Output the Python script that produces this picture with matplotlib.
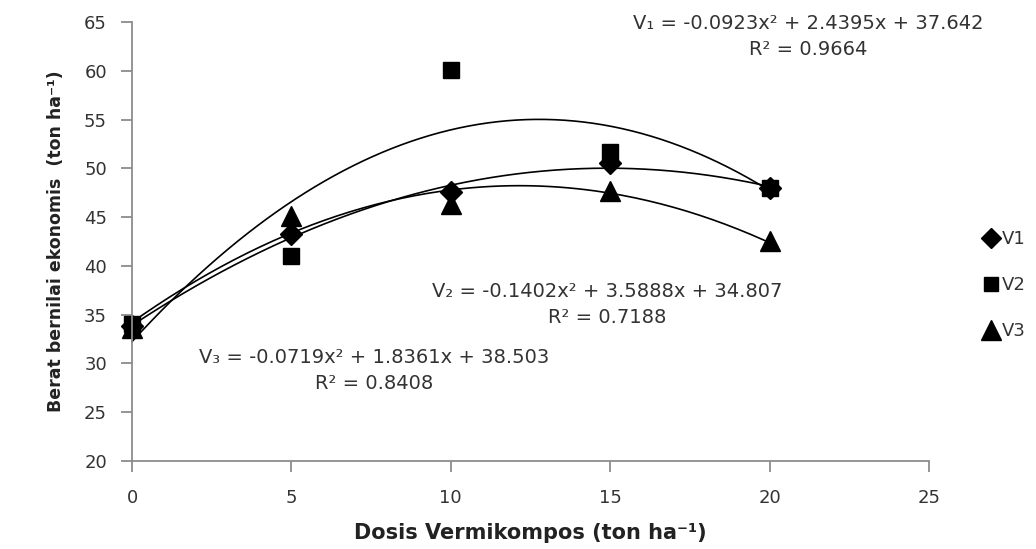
import numpy as np
import matplotlib.pyplot as plt

# data
dosis = [0, 5, 10, 15, 20]
v1 = [33.8, 43.3, 47.6, 50.5, 48.0]
v2 = [34.0, 41.0, 60.1, 51.7, 48.0]
v3 = [33.6, 45.1, 46.3, 47.7, 42.5]
series_names = ['V1', 'V2', 'V3']
markers = ['D', 's', '^']
msizes = [11, 11, 15]

eq_texts = [
    'V\u2081 = -0.0923x\u00b2 + 2.4395x + 37.642\nR\u00b2 = 0.9664',
    'V\u2082 = -0.1402x\u00b2 + 3.5888x + 34.807\nR\u00b2 = 0.7188',
    'V\u2083 = -0.0719x\u00b2 + 1.8361x + 38.503\nR\u00b2 = 0.8408',
]
eq_pos = [(21.2, 65.8), (14.9, 38.3), (7.6, 31.6)]

plt.rcParams['font.family'] = ['DejaVu Sans']
txt_col = '#333333'

fig = plt.figure(figsize=(10.36, 5.49), dpi=100)
ax = fig.add_axes([132/1036, 1 - 461/549, 797/1036, 439/549])

xs = np.linspace(0, 20, 200)
for ys, name, m, s in zip([v1, v2, v3], series_names, markers, msizes):
    ax.plot(dosis, ys, linestyle='none', marker=m, markersize=s, color='black', label=name)
    coef = np.polyfit(dosis, ys, 2)
    ax.plot(xs, np.polyval(coef, xs), color='black', linewidth=1.2)

for t, (x, y) in zip(eq_texts, eq_pos):
    ax.text(x, y, t, ha='center', va='top', fontsize=14, color=txt_col,
            linespacing=1.45, multialignment='center')

ax.set_xlim(0, 25)
ax.set_ylim(20, 65)
ax.set_xticks(range(0, 26, 5))
ax.set_yticks(range(20, 66, 5))
ax.spines['top'].set_visible(False)
ax.spines['right'].set_visible(False)
for sp in ['left', 'bottom']:
    ax.spines[sp].set_color('#8c8c8c')
    ax.spines[sp].set_linewidth(1.3)
ax.tick_params(direction='out', length=8, width=1.3, color='#8c8c8c', labelsize=13,
               labelcolor=txt_col)
ax.tick_params(axis='x', pad=12)
ax.tick_params(axis='y', pad=10)

ax.set_xlabel('Dosis Vermikompos (ton ha\u207b\u00b9)', fontsize=15, fontweight='bold',
              labelpad=12, color='#222222')
ax.set_ylabel('Berat bernilai ekonomis  (ton ha\u207b\u00b9)', fontsize=12.5, fontweight='bold',
              labelpad=14, color='#222222')

leg = ax.legend(loc='center left', bbox_to_anchor=(1.05, 0.40), frameon=False, fontsize=13,
                handletextpad=0.15, handlelength=1.0, labelspacing=1.55, markerscale=0.95,
                borderpad=0.2)
for tx in leg.get_texts():
    tx.set_color(txt_col)

for ln in ax.lines:
    ln.set_clip_on(False)

fig.savefig('out.png', dpi=100)
